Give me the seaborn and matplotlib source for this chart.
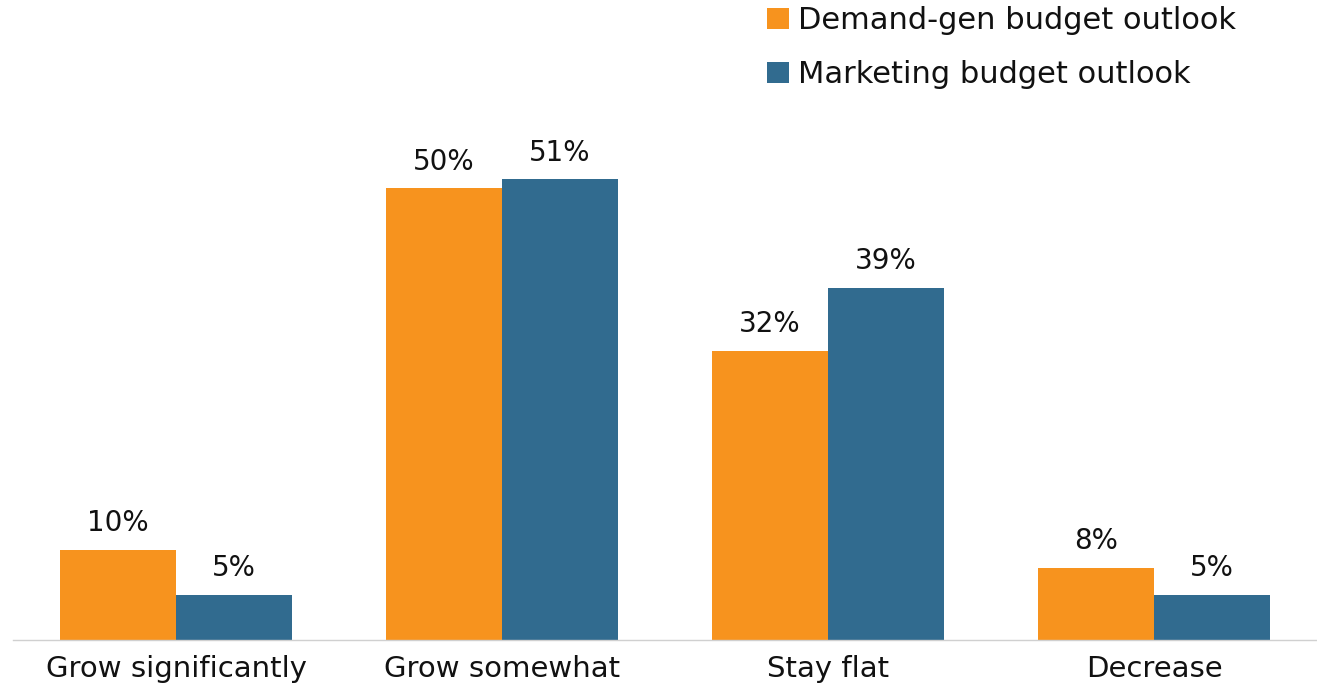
import matplotlib
matplotlib.use("Agg")
import matplotlib.pyplot as plt
import seaborn as sns
import pandas as pd
from matplotlib.patches import Patch

categories = ["Grow significantly", "Grow somewhat", "Stay flat", "Decrease"]
series_names = ["Demand-gen budget outlook", "Marketing budget outlook"]
demand_gen = [10, 50, 32, 8]
marketing = [5, 51, 39, 5]
colors = ["#F7931E", "#316B8F"]

df = pd.DataFrame({
    "category": categories * 2,
    "series": [series_names[0]] * 4 + [series_names[1]] * 4,
    "value": demand_gen + marketing,
})

sns.set_theme(style="white")
plt.rcParams["font.family"] = ["DejaVu Sans"]

fig = plt.figure(figsize=(13.24, 6.91), dpi=100)
ax = fig.add_axes([13 / 1324, 1 - 640 / 691, (1317 - 13) / 1324, (640 - 98) / 691])

sns.barplot(data=df, x="category", y="value", hue="series", order=categories,
            hue_order=series_names, palette=colors, width=0.712, saturation=1,
            linewidth=0, edgecolor="none", ax=ax, legend=False)

for cont in ax.containers:
    ax.bar_label(cont, labels=[f"{v:.0f}%" for v in cont.datavalues],
                 padding=9, fontsize=20, color="#111111")

ax.set_ylim(0, 60)
ax.set_xlim(-0.5, 3.5)
ax.set_xlabel("")
ax.set_ylabel("")
ax.set_yticks([])
ax.tick_params(axis="x", length=0, pad=11, labelsize=21, labelcolor="#111111")
for s in ["top", "right", "left"]:
    ax.spines[s].set_visible(False)
ax.spines["bottom"].set_color("#D0D0D0")
ax.spines["bottom"].set_linestyle((0, (2, 1)))
ax.spines["bottom"].set_linewidth(1)

handles = [Patch(facecolor=c, edgecolor="none") for c in colors]
fig.legend(handles, series_names, loc="upper left",
           bbox_to_anchor=(749 / 1324, 1 + 12 / 691), frameon=False,
           fontsize=22, handlelength=0.7, handleheight=0.7,
           handletextpad=0.3, labelspacing=0.82, borderaxespad=0.2,
           labelcolor="#111111")

fig.savefig("out.png", dpi=100)
